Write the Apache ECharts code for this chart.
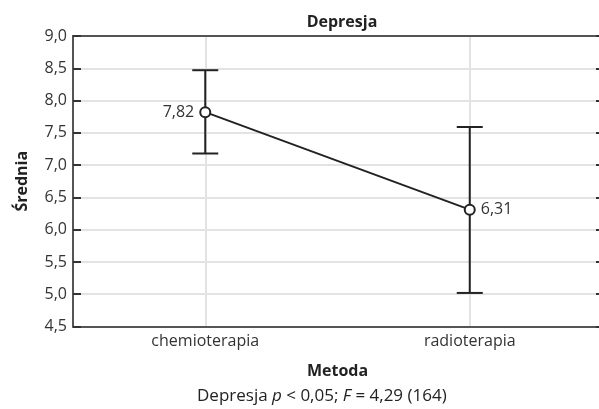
<!DOCTYPE html>
<html>
<head>
<meta charset="utf-8">
<script src="https://cdn.jsdelivr.net/npm/echarts@6/dist/echarts.min.js"></script>
<style>
  html, body { margin: 0; padding: 0; background: #fff; }
  #chart { width: 599px; height: 409px; }
</style>
</head>
<body>
<div id="chart"></div>
<script>
// dane z wykresu
var categories = ['chemioterapia', 'radioterapia'];
var means = [7.82, 6.31];
var upper = [8.47, 7.59];
var lower = [7.18, 5.02];
var meanLabels = ['7,82', '6,31'];
var labelSide = ['left', 'right'];

var FONT = 'Open Sans';
var fmt = function (v) { return v.toFixed(1).replace('.', ','); };

var chart = echarts.init(document.getElementById('chart'));
chart.setOption({
  animation: false,
  textStyle: { fontFamily: FONT, color: '#222' },
  title: {
    text: 'Depresja',
    left: 337, top: 9, textAlign: 'center',
    textStyle: { fontSize: 16, fontWeight: 'bold', color: '#222', fontFamily: FONT }
  },
  grid: { left: 73, width: 529, top: 36, bottom: 82.5, containLabel: false, outerBoundsMode: 'none' },
  graphic: [
    {
      type: 'text', left: 197, top: 388,
      style: {
        text: 'Depresja {i|p} < 0,05; {i|F} = 4,29 (164)',
        fontSize: 17, fontFamily: FONT, fill: '#222',
        rich: { i: { fontStyle: 'italic', fontSize: 17, fontFamily: FONT } }
      }
    }
  ],
  xAxis: [
    {
      type: 'category', data: categories, position: 'bottom',
      name: 'Metoda', nameLocation: 'middle', nameGap: 37,
      nameTextStyle: { fontSize: 16, fontWeight: 'bold', color: '#222' },
      axisLine: { lineStyle: { color: '#555', width: 2 } },
      axisTick: { alignWithLabel: true, inside: true, length: 7, lineStyle: { color: '#333', width: 2 } },
      axisLabel: { fontSize: 16, color: '#333', margin: 7 },
      splitLine: { show: true, alignWithLabel: true, lineStyle: { color: '#e3e3e3', width: 2 } }
    },
    {
      type: 'category', data: categories, position: 'top',
      axisLine: { lineStyle: { color: '#555', width: 2 } },
      axisTick: { alignWithLabel: true, inside: true, length: 7, lineStyle: { color: '#333', width: 2 } },
      axisLabel: { show: false },
      splitLine: { show: false }
    }
  ],
  yAxis: [
    {
      type: 'value', min: 4.5, max: 9, interval: 0.5, position: 'left',
      name: 'Średnia', nameLocation: 'middle', nameGap: 43,
      nameTextStyle: { fontSize: 16, fontWeight: 'bold', color: '#222' },
      axisLine: { show: true, lineStyle: { color: '#555', width: 2 } },
      axisTick: { show: true, inside: true, length: 8, lineStyle: { color: '#333', width: 2 } },
      axisLabel: { fontSize: 16, color: '#333', margin: 6, formatter: fmt },
      splitLine: { show: true, lineStyle: { color: '#e3e3e3', width: 2 } }
    },
    {
      type: 'value', min: 4.5, max: 9, interval: 0.5, position: 'right',
      axisLine: { show: false },
      axisTick: { show: true, inside: true, length: 6, lineStyle: { color: '#333', width: 2 } },
      axisLabel: { show: false },
      splitLine: { show: false }
    }
  ],
  series: [
    {
      type: 'custom',
      z: 3,
      data: categories.map(function (c, i) { return [i, lower[i], upper[i]]; }),
      renderItem: function (params, api) {
        var lo = api.coord([api.value(0), api.value(1)]);
        var hi = api.coord([api.value(0), api.value(2)]);
        var w = 13;
        var st = { stroke: '#222', lineWidth: 2 };
        return {
          type: 'group',
          children: [
            { type: 'line', shape: { x1: hi[0], y1: hi[1], x2: lo[0], y2: lo[1] }, style: st },
            { type: 'line', shape: { x1: hi[0] - w, y1: hi[1], x2: hi[0] + w, y2: hi[1] }, style: st },
            { type: 'line', shape: { x1: lo[0] - w, y1: lo[1], x2: lo[0] + w, y2: lo[1] }, style: st }
          ]
        };
      }
    },
    {
      type: 'line',
      z: 4,
      data: means.map(function (v, i) {
        return { value: v, label: { position: labelSide[i] } };
      }),
      symbol: 'circle', symbolSize: 10,
      lineStyle: { color: '#222', width: 2 },
      itemStyle: { color: '#fff', borderColor: '#222', borderWidth: 2 },
      label: {
        show: true, fontSize: 16, color: '#333', distance: 5,
        formatter: function (p) { return meanLabels[p.dataIndex]; }
      }
    }
  ]
});
</script>
</body>
</html>
